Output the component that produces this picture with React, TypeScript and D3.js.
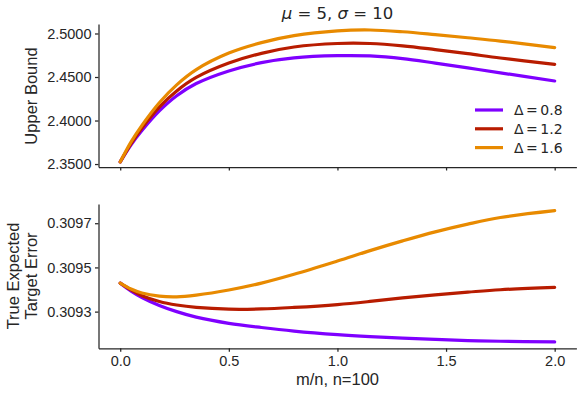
import React, { useEffect, useRef } from "react";
import * as d3 from "d3";

const ratios = [0, 0.05, 0.1, 0.18, 0.26, 0.35, 0.5, 0.65, 0.8, 1.0, 1.15, 1.3, 1.45, 1.6, 1.75, 2.0];

const deltas = ["0.8", "1.2", "1.6"];
const colors = ["#7f00ff", "#b81c00", "#e88a00"];

const boundD08 = [2.3525, 2.3722, 2.3885, 2.411, 2.4285, 2.4425, 2.457, 2.4665, 2.472, 2.4745, 2.4742, 2.4712, 2.466, 2.4605, 2.4548, 2.4454];
const boundD12 = [2.3525, 2.3735, 2.3915, 2.4155, 2.434, 2.4495, 2.466, 2.4772, 2.4845, 2.4885, 2.4885, 2.4858, 2.4815, 2.4768, 2.4718, 2.4646];
const boundD16 = [2.3525, 2.3755, 2.3945, 2.4205, 2.441, 2.4585, 2.4775, 2.4895, 2.4975, 2.503, 2.504, 2.502, 2.4987, 2.4951, 2.4913, 2.4837];

const errD08 = [0.309429, 0.309393, 0.309364, 0.309328, 0.3093, 0.309275, 0.309247, 0.309228, 0.309212, 0.309196, 0.309187, 0.30918, 0.309174, 0.309169, 0.309166, 0.309163];
const errD12 = [0.309429, 0.309398, 0.309372, 0.309346, 0.30933, 0.309319, 0.309311, 0.309312, 0.309319, 0.309332, 0.309346, 0.309362, 0.309376, 0.309388, 0.309399, 0.30941];
const errD16 = [0.309429, 0.309402, 0.309384, 0.30937, 0.309367, 0.309375, 0.309398, 0.309429, 0.309469, 0.309529, 0.309576, 0.30962, 0.309661, 0.309696, 0.309726, 0.309757];

const xTicks = [0, 0.5, 1.0, 1.5, 2.0];
const boundTicks = [2.35, 2.4, 2.45, 2.5];
const errTicks = [0.3093, 0.3095, 0.3097];

const ink = "#262626";
const sans = "'Liberation Sans', Arial, sans-serif";
const math = "'DejaVu Sans', sans-serif";

const App = () => {
  const ref = useRef<SVGSVGElement>(null);

  useEffect(() => {
    document.body.style.margin = "0";
    const svg = d3.select(ref.current);
    svg.selectAll("*").remove();

    const x = d3.scaleLinear().domain([-0.1, 2.1]).range([98.5, 576.4]);

    const panels = [
      {
        series: [boundD08, boundD12, boundD16],
        y: d3.scaleLinear().domain([2.3466, 2.5109]).range([167, 24]),
        ticks: boundTicks,
        xLabels: false,
      },
      {
        series: [errD08, errD12, errD16],
        y: d3.scaleLinear().domain([0.309134, 0.309787]).range([348.3, 204]),
        ticks: errTicks,
        xLabels: true,
      },
    ];

    panels.forEach((p) => {
      const [bottom] = p.y.range();
      const g = svg.append("g");

      const xAxis = g
        .append("g")
        .attr("transform", `translate(0,${bottom})`)
        .call(
          d3
            .axisBottom(x)
            .tickValues(xTicks)
            .tickSize(3.5)
            .tickSizeOuter(0)
            .tickPadding(3.5)
            .tickFormat((d) => (p.xLabels ? d3.format(".1f")(d as number) : ""))
        );

      const yAxis = g
        .append("g")
        .attr("transform", `translate(${x.range()[0]},0)`)
        .call(
          d3
            .axisLeft(p.y)
            .tickValues(p.ticks)
            .tickSize(3.5)
            .tickSizeOuter(0)
            .tickPadding(3.5)
            .tickFormat(d3.format(".4f"))
        );

      [xAxis, yAxis].forEach((a) => {
        a.selectAll("path,line").attr("stroke", ink).attr("stroke-width", 1.25);
        a.selectAll("text")
          .attr("fill", ink)
          .style("font-family", sans)
          .style("font-size", "14.5px");
      });

      const line = d3
        .line<number>()
        .x((d, i) => x(ratios[i]))
        .y((d) => p.y(d))
        .curve(d3.curveCatmullRom.alpha(0.5));

      p.series.forEach((s, i) => {
        g.append("path")
          .attr("d", line(s))
          .attr("fill", "none")
          .attr("stroke", colors[i])
          .attr("stroke-width", 3.2)
          .attr("stroke-linecap", "round");
      });
    });

    // title
    const title = svg
      .append("text")
      .attr("x", 337.5)
      .attr("y", 19)
      .attr("text-anchor", "middle")
      .attr("fill", ink)
      .style("font-family", math)
      .style("font-size", "16.5px");
    title.append("tspan").style("font-style", "italic").text("μ");
    title.append("tspan").text(" = 5, ");
    title.append("tspan").style("font-style", "italic").text("σ");
    title.append("tspan").text(" = 10");

    // axis labels
    svg
      .append("text")
      .attr("transform", "translate(37,96) rotate(-90)")
      .attr("text-anchor", "middle")
      .attr("fill", ink)
      .style("font-family", sans)
      .style("font-size", "16.5px")
      .text("Upper Bound");

    ["True Expected", "Target Error"].forEach((t, i) => {
      svg
        .append("text")
        .attr("transform", `translate(${19 + i * 17.5},276) rotate(-90)`)
        .attr("text-anchor", "middle")
        .attr("fill", ink)
        .style("font-family", sans)
        .style("font-size", "16.5px")
        .text(t);
    });

    svg
      .append("text")
      .attr("x", 337.5)
      .attr("y", 385)
      .attr("text-anchor", "middle")
      .attr("fill", ink)
      .style("font-family", sans)
      .style("font-size", "16.5px")
      .text("m/n, n=100");

    // legend
    const legend = svg.append("g");
    deltas.forEach((d, i) => {
      const ly = 110 + i * 18.8;
      legend
        .append("line")
        .attr("x1", 475)
        .attr("x2", 503)
        .attr("y1", ly)
        .attr("y2", ly)
        .attr("stroke", colors[i])
        .attr("stroke-width", 3.2);
      const t = legend
        .append("text")
        .attr("x", 514)
        .attr("y", ly + 5)
        .attr("fill", ink)
        .style("font-family", math)
        .style("font-size", "14px");
      t.append("tspan").text("Δ");
      t.append("tspan").attr("dx", 2.5).text("=");
      t.append("tspan").attr("dx", 2.5).text(d);
    });
  }, []);

  return <svg ref={ref} width={581} height={396} style={{ display: "block" }} />;
};

export default App;
